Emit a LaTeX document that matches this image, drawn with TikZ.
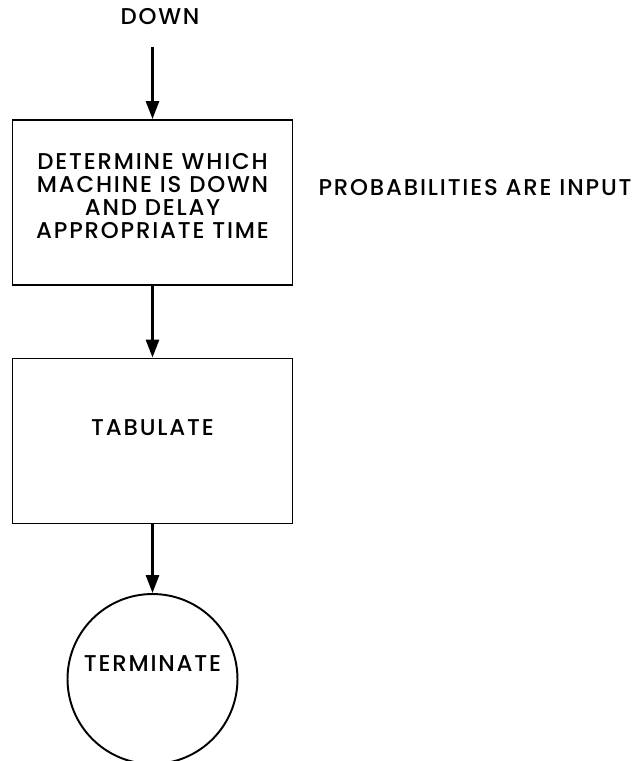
\documentclass[tikz,border=0pt]{standalone}
\usepackage{fontspec}
\setmainfont{Poppins}[LetterSpace=8, BoldFont={Poppins Medium}]
\usetikzlibrary{positioning,arrows.meta}

\begin{document}
\begin{tikzpicture}[x=0.02cm, y=-0.02cm,
  every node/.style={font=\fontsize{13}{13.1}\selectfont\bfseries},
  procbox/.style={draw, line width=1.1pt, minimum width=5.6cm, minimum height=3.3cm},
  endcircle/.style={draw, circle, line width=1.1pt, minimum size=3.4cm},
  flow/.style={-{Triangle[length=0.36cm,width=0.26cm]}, line width=1.6pt}]
  \useasboundingbox (0,0) rectangle (636,761);
  \node (down) at (160,17) {DOWN};
  \coordinate (start) at (152.5,47);
  \node[procbox] (which) at (152.5,202.5) {};
  \node[align=center] (whichtext) at (152.5,196) {DETERMINE WHICH\\MACHINE IS DOWN\\AND DELAY\\APPROPRIATE TIME};
  \node[font=\fontsize{13}{15}\selectfont\bfseries] (prob) at (475,188) {PROBABILITIES ARE INPUT};
  \node[procbox] (tab) at (152.5,441) {};
  \node (tabtext) at (152.5,428) {TABULATE};
  \node[endcircle] (term) at (152.5,679) {};
  \node (termtext) at (152.5,664) {TERMINATE};
  \draw[flow] (start) -- (which);
  \draw[flow] (which) -- (tab);
  \draw[flow] (tab) -- (term);
\end{tikzpicture}
\end{document}
